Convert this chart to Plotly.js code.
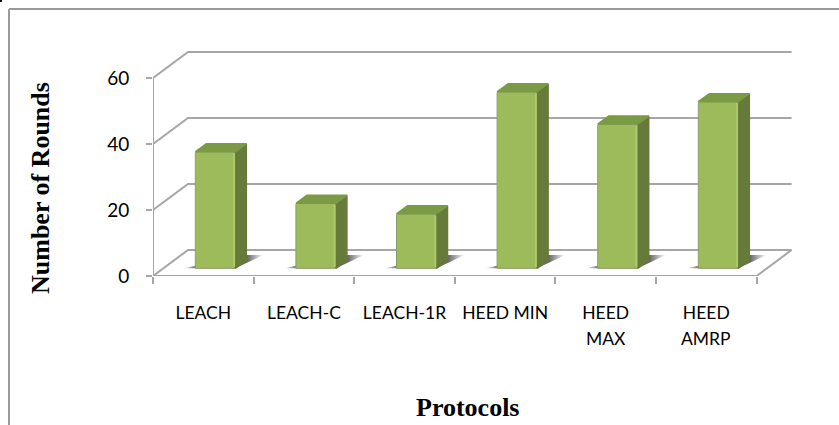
<!DOCTYPE html>
<html>
<head>
<meta charset="utf-8">
<script src="https://cdn.plot.ly/plotly-3.0.1.min.js"></script>
<style>html,body{margin:0;padding:0;background:#fff;overflow:hidden}</style>
</head>
<body>
<div id="chart" style="width:839px;height:425px"></div>
<script>
// ---- data ----
const categories = ["LEACH", "LEACH-C", "LEACH-1R", "HEED MIN", "HEED MAX", "HEED AMRP"];
const rounds = [35.3, 19.7, 16.5, 53.5, 43.7, 50.5];
const tickRowOne = ["LEACH", "LEACH-C", "LEACH-1R", "HEED MIN", "HEED", "HEED"];
const tickRowTwo = ["", "", "", "", "MAX", "AMRP"];
const yTicks = [0, 20, 40, 60];

// ---- frame geometry (px) ----
const W = 839, H = 425;
const plotL = 153, plotR = 793, plotT = 40, plotB = 276;
const pxPerCat = 100.6, pxPerUnit = 3.3;
const xRange = [-0.5, -0.5 + (plotR - plotL) / pxPerCat];
const yRange = [0, (plotB - plotT) / pxPerUnit];
const wallDx = 35 / pxPerCat, wallDy = 26 / pxPerUnit;
const barShiftX = 12 / pxPerCat, barShiftY = 7.7 / pxPerUnit;
const barW = 40 / pxPerCat, depthX = 11 / pxPerCat, depthY = 8 / pxPerUnit;
const n = categories.length;
const x0 = -0.5, x1 = n - 0.5;
const grey = "#a6a6a6";

const idx = categories.map((_, i) => i);
const traces = [];

// gridlines on the walls, through the main axes
yTicks.forEach(v => {
  traces.push({x: [x0, x0 + wallDx, x1 + wallDx], y: [v, v + wallDy, v + wallDy],
    mode: "lines", line: {color: grey, width: 2}, hoverinfo: "skip", xaxis: "x", yaxis: "y"});
});
// left axis, base line and right floor edge
traces.push({x: [x0, x0], y: [0, 60], mode: "lines", line: {color: grey, width: 2}, hoverinfo: "skip"});
traces.push({x: [x0, x1, x1 + wallDx], y: [0, 0, wallDy], mode: "lines", line: {color: grey, width: 2}, hoverinfo: "skip"});

// floor shadows (shifted axes, under the bars)
idx.forEach(i => {
  const l = i - barW / 2, r = i + barW / 2;
  traces.push({
    x: [l - 0.12, r, r + 0.28, r, l, l - 0.12],
    y: [0, 0, 4, 4, 0.8, 0],
    mode: "lines", line: {width: 0}, fill: "toself",
    fillgradient: {type: "horizontal", colorscale: [
      [0, "rgba(80,80,80,0)"], [0.16, "rgba(80,80,80,0.85)"], [0.8, "rgba(80,80,80,0.85)"], [1, "rgba(80,80,80,0)"]]},
    hoverinfo: "skip", xaxis: "x2", yaxis: "y2"});
});

// bar front faces
traces.push({type: "bar", x: idx, y: rounds, width: barW,
  marker: {color: "#9dbb5b", line: {color: "#8c9f6a", width: 1}, cornerradius: 2},
  text: categories, hoverinfo: "text+y", textposition: "none", xaxis: "x3", yaxis: "y3"});

// side and top faces
idx.forEach(i => {
  const l = i - barW / 2, r = i + barW / 2, v = rounds[i];
  traces.push({x: [r, r + depthX, r + depthX, r, r], y: [0, depthY, v + depthY, v, 0],
    mode: "lines", line: {color: "#667a39", width: 1.5, shape: "linear"}, fill: "toself", fillcolor: "#667a39",
    hoverinfo: "skip", xaxis: "x3", yaxis: "y3"});
  traces.push({x: [l, r, r + depthX, l + depthX, l], y: [v, v, v + depthY, v + depthY, v],
    mode: "lines", line: {color: "#7a9a45", width: 1.5}, fill: "toself", fillcolor: "#7a9a45",
    hoverinfo: "skip", xaxis: "x3", yaxis: "y3"});
  // light bevel on the right edge of the front face
  traces.push({x: [r - 0.012, r - 0.012], y: [0.4, v - 0.4], mode: "lines",
    line: {color: "#acca6b", width: 2}, hoverinfo: "skip", xaxis: "x3", yaxis: "y3"});
});

const shifted = {
  range: [xRange[0] - barShiftX, xRange[1] - barShiftX],
  visible: false, overlaying: "x", fixedrange: true
};
const shiftedY = {
  range: [yRange[0] - barShiftY, yRange[1] - barShiftY],
  visible: false, overlaying: "y", fixedrange: true
};

const px = v => (v - plotL) / (plotR - plotL);
const py = v => (plotB - v) / (plotB - plotT);

const textFont = {family: "Lato, 'Open Sans', sans-serif", size: 17.5, color: "#000"};
const titleFont = {family: "'Liberation Serif', serif", size: 26, color: "#000"};

const annotations = idx.filter(i => tickRowTwo[i]).map(i => ({
  x: i, xref: "x", y: py(338.5), yref: "paper", text: tickRowTwo[i], showarrow: false,
  font: textFont, xanchor: "center", yanchor: "middle"
}));
annotations.push({x: px(468), xref: "paper", y: py(407), yref: "paper", text: "<b>Protocols</b>",
  showarrow: false, font: titleFont, xanchor: "center", yanchor: "middle"});
annotations.push({x: px(40), xref: "paper", y: py(188), yref: "paper", text: "<b>Number of Rounds</b>",
  textangle: -90, showarrow: false, font: titleFont, xanchor: "center", yanchor: "middle"});

const layout = {
  width: W, height: H, autosize: false, showlegend: false,
  paper_bgcolor: "#fff", plot_bgcolor: "rgba(0,0,0,0)",
  margin: {l: plotL, r: W - plotR, t: plotT, b: H - plotB, pad: 0},
  bargap: 0,
  xaxis: {
    range: xRange, tickmode: "array", tickvals: idx, ticktext: tickRowOne, ticks: "",
    showgrid: false, zeroline: false, showline: false, fixedrange: true,
    tickfont: textFont, ticklabelstandoff: 24, tickangle: 0,
    minor: {tickmode: "array", tickvals: Array.from({length: n + 1}, (_, i) => i - 0.5),
      ticks: "outside", ticklen: 7, tickwidth: 2, tickcolor: grey, showgrid: false}
  },
  yaxis: {
    range: yRange, tickmode: "array", tickvals: yTicks, ticks: "outside", ticklen: 6, tickwidth: 2,
    tickcolor: grey, showgrid: false, zeroline: false, showline: false, fixedrange: true,
    tickfont: {family: "Lato, 'Open Sans', sans-serif", size: 19, color: "#000"}, ticklabelstandoff: 13
  },
  xaxis2: Object.assign({anchor: "y2"}, shifted),
  yaxis2: Object.assign({anchor: "x2"}, shiftedY),
  xaxis3: Object.assign({anchor: "y3"}, shifted),
  yaxis3: Object.assign({anchor: "x3"}, shiftedY),
  annotations: annotations,
  shapes: [
    {type: "line", xref: "paper", yref: "paper", x0: px(9), x1: px(839), y0: py(9), y1: py(9),
      line: {color: "#9a9a9a", width: 2}, layer: "below"},
    {type: "line", xref: "paper", yref: "paper", x0: px(9), x1: px(9), y0: py(9), y1: py(425),
      line: {color: "#9a9a9a", width: 2}, layer: "below"},
    {type: "rect", xref: "paper", yref: "paper", x0: px(0), x1: px(2), y0: py(0), y1: py(2),
      line: {width: 0}, fillcolor: "#000", layer: "below"}
  ]
};

Plotly.newPlot("chart", traces, layout, {displayModeBar: false, staticPlot: true});
</script>
</body>
</html>
